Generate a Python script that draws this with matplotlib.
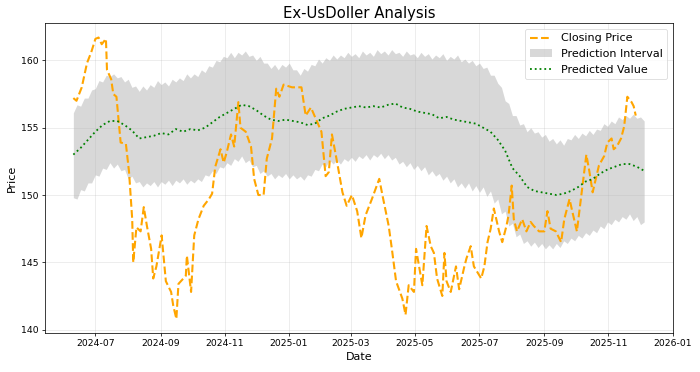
import matplotlib
matplotlib.use("Agg")
import matplotlib.pyplot as plt
import pandas as pd

# ---- Closing price ----
close_dates = [
    "2024-06-10", "2024-06-13", "2024-06-18", "2024-06-23", "2024-06-27", "2024-07-01",
    "2024-07-04", "2024-07-07", "2024-07-11", "2024-07-12", "2024-07-16", "2024-07-18",
    "2024-07-21", "2024-07-25", "2024-07-30", "2024-08-02", "2024-08-05", "2024-08-06",
    "2024-08-09", "2024-08-13", "2024-08-16", "2024-08-19", "2024-08-23", "2024-08-25",
    "2024-08-28", "2024-09-02", "2024-09-06", "2024-09-11", "2024-09-13", "2024-09-16",
    "2024-09-18", "2024-09-25", "2024-09-26", "2024-09-30", "2024-10-03", "2024-10-07",
    "2024-10-12", "2024-10-17", "2024-10-20", "2024-10-23", "2024-10-28", "2024-10-31",
    "2024-11-03", "2024-11-07", "2024-11-10", "2024-11-14", "2024-11-16", "2024-11-21",
    "2024-11-26", "2024-11-29", "2024-12-03", "2024-12-08", "2024-12-11", "2024-12-16",
    "2024-12-20", "2024-12-23", "2024-12-27", "2025-01-04", "2025-01-13", "2025-01-17",
    "2025-01-22", "2025-01-27", "2025-02-01", "2025-02-05", "2025-02-08", "2025-02-11",
    "2025-02-16", "2025-02-21", "2025-02-25", "2025-03-02", "2025-03-07", "2025-03-11",
    "2025-03-15", "2025-03-21", "2025-03-28", "2025-03-31", "2025-04-06", "2025-04-09",
    "2025-04-13", "2025-04-19", "2025-04-22", "2025-04-25", "2025-04-30", "2025-05-02",
    "2025-05-08", "2025-05-12", "2025-05-16", "2025-05-19", "2025-05-22", "2025-05-27",
    "2025-05-29", "2025-05-31", "2025-06-04", "2025-06-09", "2025-06-12", "2025-06-17",
    "2025-06-19", "2025-06-23", "2025-06-26", "2025-07-03", "2025-07-06", "2025-07-09",
    "2025-07-12", "2025-07-15", "2025-07-20", "2025-07-23", "2025-07-27", "2025-07-29",
    "2025-08-01", "2025-08-03", "2025-08-06", "2025-08-11", "2025-08-15", "2025-08-19",
    "2025-08-22", "2025-08-27", "2025-09-01", "2025-09-04", "2025-09-07", "2025-09-12",
    "2025-09-17", "2025-09-20", "2025-09-25", "2025-09-27", "2025-10-02", "2025-10-07",
    "2025-10-11", "2025-10-14", "2025-10-17", "2025-10-20", "2025-10-23", "2025-10-28",
    "2025-10-31", "2025-11-04", "2025-11-06", "2025-11-09", "2025-11-13", "2025-11-16",
    "2025-11-19", "2025-11-23", "2025-11-25", "2025-11-27",
]
close_values = [
    157.2, 157.0, 158.0, 159.8, 160.6, 161.6,
    161.7, 161.2, 161.6, 159.3, 158.6, 157.5,
    157.3, 153.9, 153.8, 151.7, 148.2, 145.0,
    147.6, 147.3, 149.1, 147.7, 146.0, 143.8,
    144.7, 147.0, 143.6, 142.8, 141.8, 140.8,
    143.4, 144.0, 145.5, 142.8, 147.0, 148.2,
    149.2, 149.7, 150.1, 152.1, 153.4, 152.4,
    153.2, 154.5, 153.6, 156.9, 155.0, 154.7,
    153.6, 151.2, 150.0, 150.0, 152.7, 154.2,
    157.9, 157.3, 158.2, 158.0, 158.0, 155.9,
    156.5, 155.6, 154.7, 151.4, 151.7, 154.5,
    152.4, 150.2, 149.2, 150.0, 148.8, 146.8,
    148.5, 149.7, 151.2, 150.0, 147.7, 146.0,
    143.6, 142.3, 141.1, 143.3, 142.8, 146.0,
    143.3, 147.7, 146.2, 145.7, 143.8, 142.5,
    145.7, 143.6, 142.8, 144.7, 143.0, 144.7,
    145.3, 146.2, 144.7, 143.8, 144.7, 146.5,
    147.5, 149.0, 147.3, 146.5, 147.7, 148.5,
    150.7, 148.2, 147.3, 148.2, 147.3, 148.0,
    147.7, 147.3, 147.3, 148.8, 147.5, 147.3,
    146.5, 148.2, 149.7, 149.0, 147.3, 150.5,
    153.0, 151.7, 150.2, 151.2, 152.2, 152.9,
    153.9, 154.2, 153.4, 153.6, 154.2, 155.1,
    157.3, 156.9, 156.6, 155.9,
]

# ---- Prediction (evenly spaced dates, Jun 10 2024 .. Dec 5 2025) ----
pred_start = "2024-06-10"
pred_end = "2025-12-05"
pred_values = [
    153.0, 153.5, 154.1, 154.7, 155.2, 155.5, 155.5, 155.2, 154.8, 154.2,
    154.3, 154.4, 154.6, 154.5, 154.9, 154.7, 154.9, 154.8, 155.0, 155.4,
    155.8, 156.1, 156.4, 156.7, 156.6, 156.3, 155.9, 155.6, 155.5, 155.6,
    155.5, 155.4, 155.2, 155.3, 155.7, 155.9, 156.2, 156.4, 156.5, 156.6,
    156.5, 156.6, 156.5, 156.7, 156.8, 156.5, 156.4, 156.2, 156.1, 156.0,
    155.7, 155.8, 155.6, 155.5, 155.4, 155.3, 155.0, 154.7, 154.1, 153.3,
    152.0, 151.4, 150.6, 150.3, 150.2, 150.1, 150.0, 150.1, 150.3, 150.6,
    151.0, 151.2, 151.6, 151.9, 152.1, 152.3, 152.3, 152.1, 151.8,
]
# interval edges on the same dates, plus the in-between (jagged) points
upper_main = [
    156.1, 156.6, 157.2, 157.9, 158.4, 158.8, 158.7, 158.4, 158.0, 157.7,
    157.8, 158.0, 158.2, 158.1, 158.4, 158.5, 158.7, 158.8, 159.1, 159.5,
    159.9, 160.2, 160.2, 160.4, 160.3, 160.0, 159.8, 159.4, 159.3, 159.5,
    159.3, 158.9, 159.2, 159.6, 159.8, 160.0, 160.1, 160.2, 160.3, 160.2,
    160.4, 160.3, 160.5, 160.4, 160.5, 160.3, 160.4, 160.2, 160.3, 160.1,
    160.2, 160.0, 160.1, 159.9, 159.8, 159.6, 159.4, 158.9, 158.3, 157.0,
    155.9, 155.2, 154.7, 154.6, 154.3, 154.0, 153.8, 153.7, 154.1, 154.2,
    154.4, 154.5, 154.8, 155.1, 155.3, 155.6, 155.7, 155.7, 155.5,
]
upper_between = [
    156.7, 157.2, 157.8, 158.5, 158.9, 159.0, 158.8, 158.6, 158.1, 158.1,
    158.2, 158.5, 158.4, 158.6, 158.7, 159.0, 159.0, 159.3, 159.6, 160.0,
    160.3, 160.6, 160.6, 160.7, 160.4, 160.3, 159.8, 159.7, 159.7, 159.8,
    159.3, 159.4, 159.7, 160.1, 160.2, 160.4, 160.4, 160.6, 160.5, 160.7,
    160.6, 160.8, 160.7, 160.8, 160.6, 160.7, 160.5, 160.6, 160.5, 160.4,
    160.5, 160.3, 160.4, 160.1, 160.0, 159.8, 159.5, 158.9, 158.0, 156.8,
    155.9, 155.3, 155.0, 154.7, 154.5, 154.2, 154.1, 154.2, 154.5, 154.6,
    154.8, 154.9, 155.3, 155.5, 155.8, 155.9, 156.0, 155.8,
]
lower_main = [
    149.8, 150.4, 150.9, 151.5, 152.0, 152.4, 152.3, 151.9, 151.4, 151.0,
    150.9, 151.0, 151.0, 151.1, 151.1, 151.2, 151.1, 151.2, 151.5, 151.8,
    152.1, 152.4, 152.7, 152.9, 152.6, 152.2, 151.8, 151.6, 151.5, 151.6,
    151.5, 151.4, 151.5, 151.9, 152.3, 152.6, 152.6, 152.7, 152.8, 152.9,
    153.0, 153.0, 153.1, 153.0, 152.8, 152.5, 152.4, 152.2, 152.1, 151.8,
    151.6, 151.4, 151.2, 150.9, 150.9, 150.7, 150.6, 150.3, 149.7, 148.8,
    147.9, 147.1, 146.6, 146.5, 146.4, 146.3, 146.4, 146.6, 146.8, 147.0,
    147.2, 147.4, 147.7, 148.0, 148.2, 148.4, 148.6, 148.4, 148.0,
]
lower_between = [
    149.7, 150.3, 150.9, 151.4, 151.9, 152.0, 151.8, 151.2, 150.9, 150.6,
    150.7, 150.6, 150.8, 150.7, 150.9, 150.8, 150.9, 151.0, 151.4, 151.6,
    152.0, 152.2, 152.5, 152.4, 152.1, 151.6, 151.4, 151.2, 151.3, 151.2,
    151.2, 151.1, 151.4, 151.8, 152.1, 152.3, 152.3, 152.5, 152.5, 152.7,
    152.6, 152.8, 152.7, 152.6, 152.3, 152.1, 151.9, 151.8, 151.5, 151.4,
    151.1, 150.9, 150.6, 150.5, 150.3, 150.2, 149.9, 149.4, 148.6, 147.7,
    146.9, 146.4, 146.2, 146.1, 146.0, 146.0, 146.1, 146.4, 146.6, 146.8,
    147.0, 147.2, 147.5, 147.8, 148.0, 148.2, 148.1, 147.8,
]


def interleave(main, between):
    out = []
    for i, v in enumerate(main):
        out.append(v)
        if i < len(between):
            out.append(between[i])
    return out


upper_values = interleave(upper_main, upper_between)
lower_values = interleave(lower_main, lower_between)

close_x = pd.to_datetime(close_dates)
pred_x = pd.date_range(pred_start, pred_end, periods=len(pred_values))
band_x = pd.date_range(pred_start, pred_end, periods=len(upper_values))

s = 0.67
plt.rcParams.update({
    "axes.linewidth": 0.8 * s,
    "xtick.major.size": 3.5 * s, "ytick.major.size": 3.5 * s,
    "xtick.major.width": 0.8 * s, "ytick.major.width": 0.8 * s,
    "xtick.major.pad": 3.5 * s, "ytick.major.pad": 3.5 * s,
    "axes.labelpad": 4.0 * s, "axes.titlepad": 6.0 * s,
    "grid.linewidth": 0.8 * s, "legend.framealpha": 0.8,
})

fig = plt.figure(figsize=(7, 3.72), dpi=100)
ax = fig.add_axes([0.064, 0.105, 0.897, 0.832])

ax.plot(close_x, close_values, color="orange", linestyle="--", linewidth=1.5,
        label="Closing Price")
ax.fill_between(band_x, lower_values, upper_values, color="gray", alpha=0.3,
                linewidth=0, label="Prediction Interval")
ax.plot(pred_x, pred_values, color="green", linestyle=":", linewidth=1.3,
        label="Predicted Value")

ax.set_title("Ex-UsDoller Analysis", fontsize=10.7)
ax.set_xlabel("Date", fontsize=8)
ax.set_ylabel("Price", fontsize=8)
ax.tick_params(labelsize=6.7)
ax.grid(True, alpha=0.3)
leg = ax.legend(loc="upper right", fontsize=8)
leg.get_frame().set_linewidth(0.8 * s)

fig.savefig("out.png", dpi=100)
